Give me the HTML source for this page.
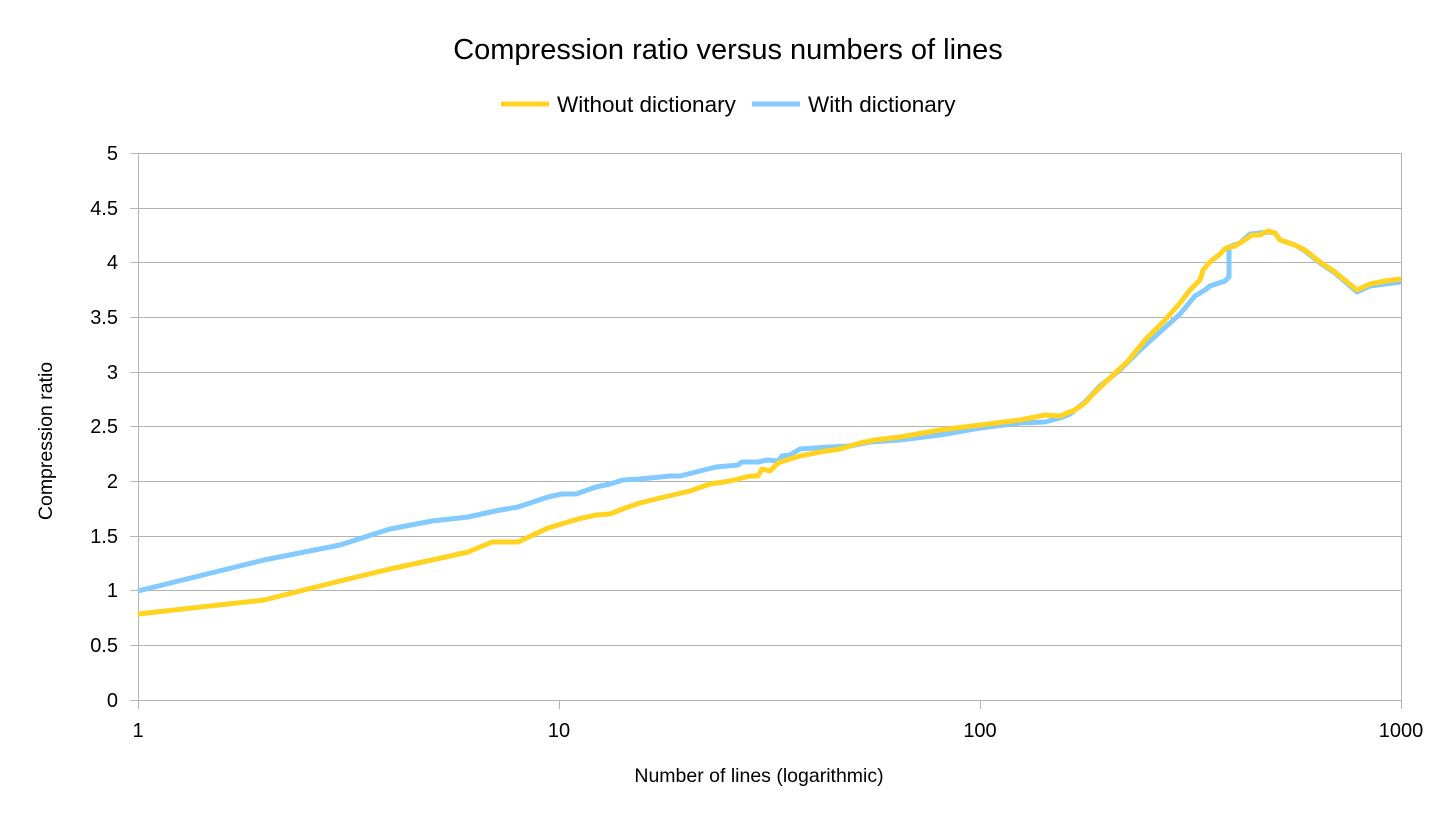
<!DOCTYPE html>
<html><head><meta charset="utf-8"><style>
body{margin:0;background:#fff;}
svg{display:block;font-family:"Liberation Sans",sans-serif;}
</style></head><body>
<svg width="1456" height="819" viewBox="0 0 1456 819" xmlns="http://www.w3.org/2000/svg">
<rect width="1456" height="819" fill="#fff"/>
<text x="728" y="59" font-size="29" text-anchor="middle" fill="#000">Compression ratio versus numbers of lines</text>
<line x1="501" y1="104" x2="549" y2="104" stroke="#ffd320" stroke-width="5"/>
<text x="557" y="112" font-size="22.5" fill="#000">Without dictionary</text>
<line x1="752" y1="104" x2="800" y2="104" stroke="#83caff" stroke-width="5"/>
<text x="808" y="112" font-size="22.5" fill="#000">With dictionary</text>
<g stroke="#b3b3b3" stroke-width="1">
<line x1="130" y1="153.5" x2="1401" y2="153.5"/>
<line x1="130" y1="208.5" x2="1401" y2="208.5"/>
<line x1="130" y1="262.5" x2="1401" y2="262.5"/>
<line x1="130" y1="317.5" x2="1401" y2="317.5"/>
<line x1="130" y1="372.5" x2="1401" y2="372.5"/>
<line x1="130" y1="426.5" x2="1401" y2="426.5"/>
<line x1="130" y1="481.5" x2="1401" y2="481.5"/>
<line x1="130" y1="536.5" x2="1401" y2="536.5"/>
<line x1="130" y1="590.5" x2="1401" y2="590.5"/>
<line x1="130" y1="645.5" x2="1401" y2="645.5"/>
<line x1="130" y1="700.5" x2="1401" y2="700.5"/>
<line x1="138.5" y1="153" x2="138.5" y2="709"/>
<line x1="1401.5" y1="153" x2="1401.5" y2="709"/>
<line x1="559.5" y1="700" x2="559.5" y2="709"/>
<line x1="980.5" y1="700" x2="980.5" y2="709"/>
</g>
<g font-size="20" text-anchor="end" fill="#000">
<text x="118" y="160">5</text><text x="118" y="215">4.5</text><text x="118" y="269">4</text>
<text x="118" y="324">3.5</text><text x="118" y="379">3</text><text x="118" y="433">2.5</text>
<text x="118" y="488">2</text><text x="118" y="543">1.5</text><text x="118" y="597">1</text>
<text x="118" y="652">0.5</text><text x="118" y="707">0</text>
</g>
<g font-size="20" text-anchor="middle" fill="#000">
<text x="138" y="737">1</text><text x="559" y="737">10</text><text x="980" y="737">100</text><text x="1401" y="737">1000</text>
</g>
<text x="759" y="782" font-size="19.5" text-anchor="middle" fill="#000">Number of lines (logarithmic)</text>
<text transform="translate(52,441) rotate(-90)" font-size="19.5" text-anchor="middle" fill="#000">Compression ratio</text>
<polyline fill="none" stroke="#83caff" stroke-width="5" stroke-linejoin="round" points="138,591 264,560 340,545 390,529 432,521 468,517 495,511 518,507 548,497 562,494 576,494 596,487 610,484 623,480 640,479 670,476 680,476 700,471 716,467 738,465 742,462 758,462 767,460 778,461 782,456 790,455 800,449 815,448 830,447 850,446 870,442 900,440 940,435 980,428 1020,423 1045,422 1060,418 1070,414 1075,410 1085,402 1100,386 1120,370 1140,350 1160,332 1180,314 1195,296 1205,290 1210,286 1225,281 1229,277 1229,247 1240,243 1250,234 1260,233 1268,232 1275,233 1280,240 1295,245 1305,251 1320,263 1335,273 1357,292 1370,286 1385,284 1401,282"/>
<polyline fill="none" stroke="#ffd320" stroke-width="5" stroke-linejoin="round" points="138,614 264,600 340,581 390,569 432,560 468,552 492,542 518,542 548,528 578,519 596,515 610,514 625,508 640,503 660,498 690,491 710,484 730,481 750,476 758,476 762,469 770,471 778,463 790,459 800,456 820,452 840,449 860,443 875,440 900,437 940,430 980,425 1020,420 1045,415 1060,416 1075,410 1085,403 1095,392 1110,378 1128,361 1145,340 1165,320 1180,303 1190,290 1200,280 1203,270 1210,262 1220,254 1226,248 1235,246 1245,240 1252,235 1260,235 1268,231 1275,233 1280,240 1295,245 1305,250 1320,262 1335,272 1357,290 1370,284 1385,281 1401,279"/>
</svg>
</body></html>
